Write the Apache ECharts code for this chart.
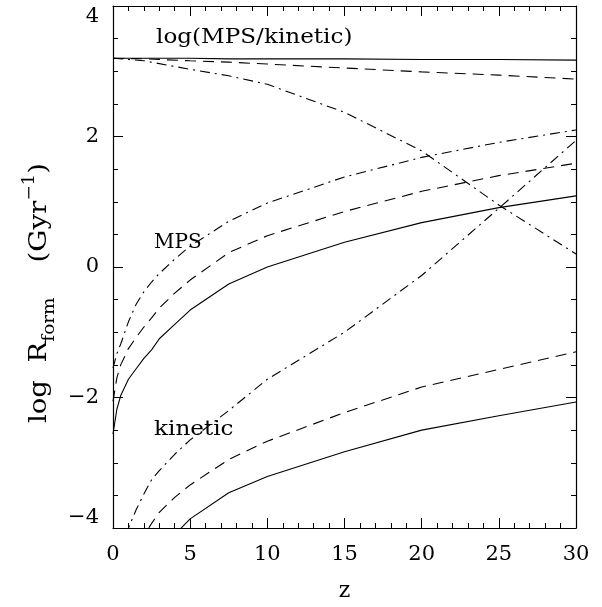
<!DOCTYPE html>
<html>
<head>
<meta charset="utf-8">
<script src="https://cdn.jsdelivr.net/npm/echarts@6/dist/echarts.min.js"></script>
<style>
html,body{margin:0;padding:0;background:#fff;}
#c{width:602px;height:607px;}
</style>
</head>
<body>
<div id="c"></div>
<script>
// ---- data ----
const zMPS = [0, 0.25, 0.5, 1, 1.5, 2, 2.5, 3, 4, 5, 7.5, 10, 15, 20, 25, 30];
const mpsSolid   = [-2.56, -2.18, -1.97, -1.72, -1.56, -1.40, -1.27, -1.10, -0.88, -0.66, -0.26, 0.00, 0.38, 0.68, 0.91, 1.09];
const mpsDashed  = [-2.06, -1.70, -1.50, -1.25, -1.08, -0.92, -0.78, -0.63, -0.40, -0.20, 0.22, 0.48, 0.85, 1.16, 1.40, 1.59];
const mpsDashDot = [-1.55, -1.33, -1.18, -0.84, -0.57, -0.38, -0.23, -0.10, 0.12, 0.32, 0.70, 0.98, 1.38, 1.68, 1.91, 2.10];

const zKin = [0, 1, 1.5, 2, 2.5, 3, 4, 5, 7.5, 10, 15, 20, 25, 30];
const kinSolid   = [-5.76, -5.00, -4.78, -4.60, -4.45, -4.32, -4.10, -3.86, -3.46, -3.21, -2.83, -2.50, -2.28, -2.07];
const kinDashed  = [-5.26, -4.60, -4.35, -4.12, -3.93, -3.76, -3.53, -3.34, -2.95, -2.67, -2.23, -1.84, -1.57, -1.30];
const kinDashDot = [-4.75, -4.00, -3.72, -3.48, -3.26, -3.12, -2.87, -2.65, -2.20, -1.72, -1.00, -0.13, 0.90, 1.94];

const zRatio = [0, 2, 5, 7.5, 10, 15, 20, 25, 30];
const ratioSolid   = [3.20, 3.20, 3.20, 3.19, 3.19, 3.19, 3.18, 3.18, 3.17];
const ratioDashed  = [3.20, 3.19, 3.16, 3.14, 3.11, 3.05, 2.99, 2.94, 2.88];
const ratioDashDot = [3.20, 3.16, 3.03, 2.93, 2.80, 2.37, 1.78, 0.95, 0.20];

const xTicks = [0, 5, 10, 15, 20, 25, 30];
const yTicks = [-4, -2, 0, 2, 4];
const curveLabels = ['log(MPS/kinetic)', 'MPS', 'kinetic'];

// ---- chart ----
const FONT = '"DejaVu Serif", "Liberation Serif", serif';
const pair = (xs, ys) => xs.map((x, i) => [x, ys[i]]);
const DASH = [11, 7];
const DASHDOT = [10, 5, 2, 5];

function line(name, xs, ys, type) {
  return {
    name, type: 'line', data: pair(xs, ys), showSymbol: false, symbol: 'none',
    smooth: false, clip: true, animation: false,
    lineStyle: { color: '#000', width: 1.1, type: type }
  };
}

const axisCommonX = {
  type: 'value', min: xTicks[0], max: xTicks[xTicks.length - 1], interval: 5,
  axisLine: { show: true, onZero: false, lineStyle: { color: '#000', width: 1.2 } },
  axisTick: { show: true, inside: true, length: 10, lineStyle: { color: '#000', width: 1 } },
  minorTick: { show: true, splitNumber: 5, length: 5, lineStyle: { color: '#000', width: 1 } },
  splitLine: { show: false }, minorSplitLine: { show: false }
};
const axisCommonY = {
  type: 'value', min: yTicks[0], max: yTicks[yTicks.length - 1], interval: 2,
  axisLine: { show: true, onZero: false, lineStyle: { color: '#000', width: 1.2 } },
  axisTick: { show: true, inside: true, length: 10, lineStyle: { color: '#000', width: 1 } },
  minorTick: { show: true, splitNumber: 4, length: 5, lineStyle: { color: '#000', width: 1 } },
  splitLine: { show: false }, minorSplitLine: { show: false }
};

const chart = echarts.init(document.getElementById('c'), null, { renderer: 'canvas' });
chart.setOption({
  backgroundColor: '#fff',
  animation: false,
  grid: { left: 113, right: 26, top: 6, bottom: 79, containLabel: false },
  xAxis: [
    Object.assign({}, axisCommonX, {
      position: 'bottom',
      axisLabel: { show: true, color: '#000', fontFamily: FONT, fontSize: 21, margin: 16,
                   formatter: v => String(v) },
      name: 'z', nameLocation: 'middle', nameGap: 52,
      nameTextStyle: { color: '#000', fontFamily: FONT, fontSize: 22 }
    }),
    Object.assign({}, axisCommonX, { position: 'top', axisLabel: { show: false } })
  ],
  yAxis: [
    Object.assign({}, axisCommonY, {
      position: 'left',
      axisLabel: { show: true, color: '#000', fontFamily: FONT, fontSize: 21, margin: 14,
                   verticalAlignMaxLabel: 'top', verticalAlignMinLabel: 'bottom',
                   formatter: v => (v < 0 ? '\u2212' + Math.abs(v) : String(v)) }
    }),
    Object.assign({}, axisCommonY, { position: 'right', axisLabel: { show: false } })
  ],
  series: [
    line('MPS solid', zMPS, mpsSolid, 'solid'),
    line('MPS dashed', zMPS, mpsDashed, DASH),
    line('MPS dashdot', zMPS, mpsDashDot, DASHDOT),
    line('kin solid', zKin, kinSolid, 'solid'),
    line('kin dashed', zKin, kinDashed, DASH),
    line('kin dashdot', zKin, kinDashDot, DASHDOT),
    line('ratio solid', zRatio, ratioSolid, 'solid'),
    line('ratio dashed', zRatio, ratioDashed, DASH),
    line('ratio dashdot', zRatio, ratioDashDot, DASHDOT)
  ],
  graphic: [
    { type: 'text', x: 156, y: 38, scaleX: 1.1, silent: true,
      style: { text: curveLabels[0], fill: '#000', font: '21px ' + FONT, verticalAlign: 'middle' } },
    { type: 'text', x: 154, y: 243, silent: true,
      style: { text: curveLabels[1], fill: '#000', font: '20px ' + FONT, verticalAlign: 'middle' } },
    { type: 'text', x: 154, y: 430, scaleX: 1.1, silent: true,
      style: { text: curveLabels[2], fill: '#000', font: '21px ' + FONT, verticalAlign: 'middle' } },
    { type: 'text', x: 40, y: 293, rotation: Math.PI / 2, scaleX: 1.15, silent: true,
      style: {
        text: '{m|log  R}{s|form}{m|    (Gyr}{p|\u22121}{m|)}',
        align: 'center', verticalAlign: 'middle', fill: '#000',
        rich: {
          m: { fontFamily: FONT, fontSize: 24, lineHeight: 36, verticalAlign: 'middle', fill: '#000' },
          s: { fontFamily: FONT, fontSize: 16, lineHeight: 16, verticalAlign: 'bottom', fill: '#000' },
          p: { fontFamily: FONT, fontSize: 16, lineHeight: 16, verticalAlign: 'top', fill: '#000' }
        }
      } }
  ]
});
</script>
</body>
</html>
